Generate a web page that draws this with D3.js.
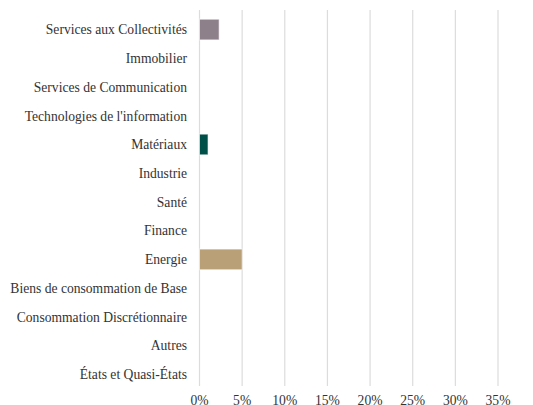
<!DOCTYPE html>
<html>
<head>
<meta charset="utf-8">
<script src="https://cdn.jsdelivr.net/npm/d3@7"></script>
<style>
  body { margin: 0; background: #fff; }
</style>
</head>
<body>
<svg id="chart"></svg>
<script>
// Sectors, top to bottom
const categories = [
    "Services aux Collectivités",
    "Immobilier",
    "Services de Communication",
    "Technologies de l'information",
    "Matériaux",
    "Industrie",
    "Santé",
    "Finance",
    "Energie",
    "Biens de consommation de Base",
    "Consommation Discrétionnaire",
    "Autres",
    "États et Quasi-États"
];

// Weight in percent
const values = [2.3, 0, 0, 0, 1.0, 0, 0, 0, 5.0, 0, 0, 0, 0];

const colors = {
    "Services aux Collectivités": "#8e808a",
    "Matériaux": "#00504a",
    "Energie": "#b9a076"
};

const ticks = [0, 5, 10, 15, 20, 25, 30, 35];

const width = 533, height = 405;
const font = "'Liberation Serif', 'Times New Roman', serif";

const svg = d3.select("#chart")
    .attr("width", width)
    .attr("height", height);

const x = d3.scaleLinear()
    .domain([0, 35])
    .range([199.5, 498]);

const y = d3.scaleBand()
    .domain(categories)
    .range([15.2, 388.7])
    .paddingInner(0.28)
    .paddingOuter(0.14);

// Vertical grid lines
svg.append("g")
    .selectAll("line")
    .data(ticks)
    .enter().append("line")
    .attr("x1", d => x(d))
    .attr("x2", d => x(d))
    .attr("y1", 10)
    .attr("y2", 386)
    .attr("stroke", "#dcdcdc")
    .attr("stroke-width", 1.2);

// Bars
svg.append("g")
    .selectAll("rect")
    .data(categories.map((c, i) => ({ cat: c, v: values[i] })).filter(d => d.v > 0))
    .enter().append("rect")
    .attr("x", x(0))
    .attr("y", d => y(d.cat))
    .attr("width", d => x(d.v) - x(0))
    .attr("height", y.bandwidth())
    .attr("fill", d => colors[d.cat])
    .attr("stroke", "#fff")
    .attr("stroke-opacity", 0.6)
    .attr("stroke-width", 1);

// Category labels
svg.append("g")
    .selectAll("text")
    .data(categories)
    .enter().append("text")
    .attr("x", 187)
    .attr("y", d => y(d) + y.bandwidth() / 2)
    .attr("dy", "0.35em")
    .attr("text-anchor", "end")
    .attr("font-family", font)
    .attr("font-size", 13.6)
    .attr("fill", "#333")
    .text(d => d);

// X tick labels
svg.append("g")
    .selectAll("text")
    .data(ticks)
    .enter().append("text")
    .attr("x", d => x(d))
    .attr("y", 400)
    .attr("dy", "0.35em")
    .attr("text-anchor", "middle")
    .attr("font-family", font)
    .attr("font-size", 13.6)
    .attr("fill", "#333")
    .text(d => d + "%");
</script>
</body>
</html>
